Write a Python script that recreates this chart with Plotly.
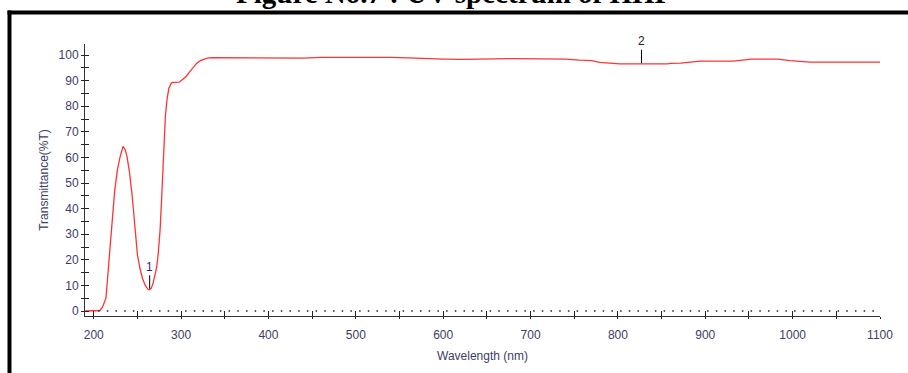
import plotly.graph_objects as go

# ---- data ----
wavelength = [190, 200, 207, 210, 214, 218, 221, 224, 227, 230, 233.5, 236, 238, 241, 244, 247,
              250, 253, 256, 259, 262, 264, 266, 268, 270, 272, 274, 276, 278, 280, 282, 284,
              286, 289, 293, 298, 302, 306, 310, 314, 318, 322, 326, 330, 335, 345, 360, 380,
              400, 420, 440, 460, 480, 500, 520, 540, 560, 580, 600, 620, 640, 660, 680, 700,
              720, 740, 756, 770, 779, 791, 802, 815, 827, 840, 857, 860, 872, 884, 894, 910,
              932, 953, 970, 983, 997, 1010, 1020, 1040, 1060, 1080, 1100]
transmittance = [0, 0, 0.2, 1.5, 5, 22, 36, 47, 55, 60, 64.3, 63, 60.5, 54, 45, 34,
                 22, 16.5, 12.5, 10, 8.5, 8.3, 9, 11, 13.5, 17, 23, 32, 46, 62, 76, 83,
                 87, 89.2, 89.3, 89.4, 90.5, 91.7, 93.5, 95.3, 96.8, 97.8, 98.4, 98.8, 99.0, 99.0, 98.9, 98.9,
                 98.8, 98.8, 98.8, 99.1, 99.1, 99.2, 99.1, 99.1, 98.9, 98.6, 98.4, 98.3, 98.3, 98.5, 98.6, 98.6,
                 98.6, 98.4, 98.0, 97.8, 97.1, 96.8, 96.5, 96.5, 96.4, 96.5, 96.5, 96.7, 96.8, 97.1, 97.6, 97.6,
                 97.6, 98.4, 98.5, 98.4, 97.8, 97.5, 97.2, 97.2, 97.2, 97.2, 97.2]
peak_labels = ["1", "2"]
peak_search = [(240, 300), (780, 880)]
x_ticks = list(range(200, 1101, 100))
y_ticks = list(range(0, 101, 10))
title_text = "Figure No.7 : UV spectrum of HHP"

X_RANGE = [190, 1100]
Y_RANGE = [-1.95, 104.3]
LABEL_COLOR = "#3d3d66"
FONT = "Liberation Sans, Arial, sans-serif"

fig = go.Figure()
fig.add_trace(go.Scatter(x=wavelength, y=transmittance, mode="lines",
                         line=dict(color="#ff3333", width=1.3), showlegend=False,
                         hoverinfo="x+y"))
# invisible helper trace for the overlaid axes (crossing ticks)
fig.add_trace(go.Scatter(x=[wavelength[0]], y=[transmittance[0]], xaxis="x2", yaxis="y2",
                         mode="lines", line=dict(width=0), showlegend=False, hoverinfo="skip"))

# peak-pick annotations
for lab, (lo, hi) in zip(peak_labels, peak_search):
    pts = [(t, w) for w, t in zip(wavelength, transmittance) if lo <= w <= hi]
    t, w = min(pts)
    fig.add_annotation(x=w, y=t, text=lab, showarrow=True, arrowhead=0, arrowwidth=1,
                       arrowcolor="black", ax=0, ay=-23, standoff=1,
                       font=dict(family=FONT, size=12, color="#3a2070" if lab == "1" else "#222"))

# dotted baseline at 0 %T
fig.add_shape(type="line", xref="x", yref="y", x0=X_RANGE[0] + 15, x1=X_RANGE[1], y0=0, y1=0,
              line=dict(color="#222", width=1.5, dash="1.5px,7.2px"))

# frame border (partial, as in the scanned figure)
L, R, T_, B = 85, 880, 44, 316
def px_x(p): return (p - L) / (R - L)
def px_y(p): return (B - p) / (B - T_)
fig.add_shape(type="line", xref="paper", yref="paper", x0=px_x(7.5), x1=px_x(920),
              y0=px_y(12.5), y1=px_y(12.5), line=dict(color="black", width=4))
fig.add_shape(type="line", xref="paper", yref="paper", x0=px_x(9.5), x1=px_x(9.5),
              y0=px_y(10.5), y1=px_y(380), line=dict(color="black", width=4))

# title (cut off at the top edge, as in the reference)
fig.add_annotation(xref="paper", yref="paper", x=px_x(454), y=px_y(11), yanchor="bottom",
                   showarrow=False, text="<b>" + title_text + "</b>",
                   font=dict(family="Liberation Serif, Times New Roman, serif", size=29, color="black"))

axis_common = dict(showgrid=False, zeroline=False, showline=True, linecolor="#333", linewidth=1)

fig.update_layout(
    width=908, height=373, autosize=False,
    margin=dict(l=L, r=908 - R, t=T_, b=373 - B),
    paper_bgcolor="white", plot_bgcolor="white",
    xaxis=dict(range=X_RANGE, tickvals=x_ticks, ticks="inside", ticklen=5, tickcolor="#222",
               minor=dict(tickvals=[v + 50 for v in x_ticks[:-1]], ticks="inside", ticklen=5, tickcolor="#222"),
               tickfont=dict(family=FONT, size=12, color=LABEL_COLOR), ticklabelstandoff=8,
               title=dict(text="Wavelength (nm)", font=dict(family=FONT, size=12, color=LABEL_COLOR), standoff=10),
               **axis_common),
    xaxis2=dict(range=X_RANGE, overlaying="x", side="bottom", tickvals=x_ticks, ticks="outside",
                ticklen=2, tickcolor="#222", showticklabels=False, showgrid=False, zeroline=False,
                minor=dict(tickvals=[v + 50 for v in x_ticks[:-1]], ticks="outside", ticklen=2, tickcolor="#222")),
    yaxis=dict(range=Y_RANGE, tickvals=y_ticks, ticks="outside", ticklen=3, tickcolor="#222",
               minor=dict(tickvals=[v + 5 for v in y_ticks[:-1]], ticks="outside", ticklen=3, tickcolor="#222"),
               tickfont=dict(family=FONT, size=12, color=LABEL_COLOR),
               title=dict(text="Transmittance(%T)", font=dict(family=FONT, size=12, color=LABEL_COLOR), standoff=7),
               **axis_common),
    yaxis2=dict(range=Y_RANGE, overlaying="y", side="left", tickvals=y_ticks, ticks="inside",
                ticklen=4, tickcolor="#222", showticklabels=False, showgrid=False, zeroline=False,
                minor=dict(tickvals=[v + 5 for v in y_ticks[:-1]], ticks="inside", ticklen=4, tickcolor="#222")),
)

fig.write_html("out.html")
